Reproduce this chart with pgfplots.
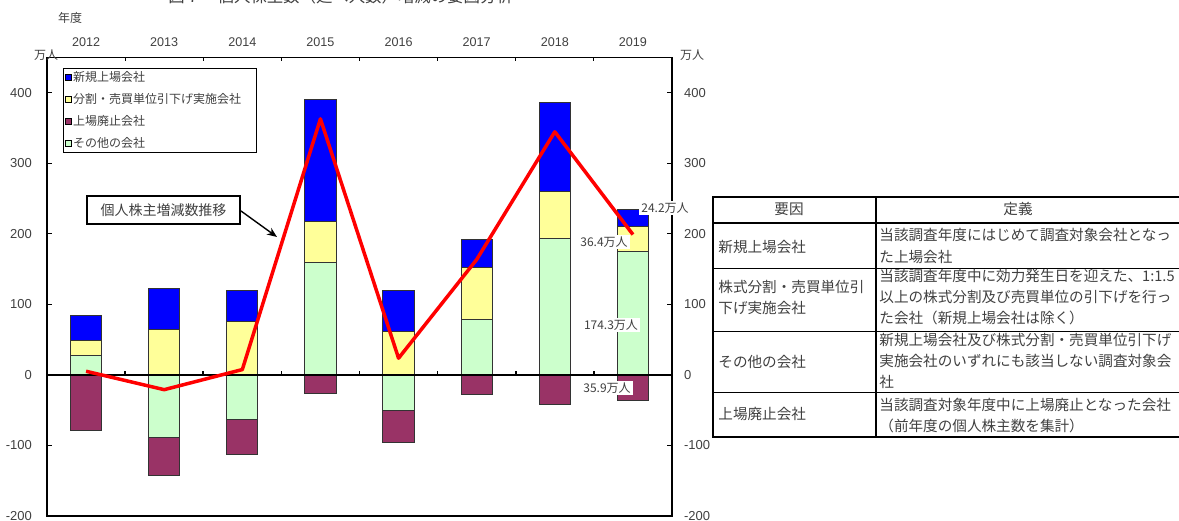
\documentclass[border=0pt]{standalone}
\usepackage{fontspec}
\setmainfont{Liberation Sans}
\newfontfamily\jp{Noto Sans CJK JP}
\usepackage{pgfplots}
\pgfplotsset{compat=1.18}
\usetikzlibrary{arrows.meta}

\definecolor{cBlue}{HTML}{0000FF}
\definecolor{cYel}{HTML}{FFFF99}
\definecolor{cPur}{HTML}{993366}
\definecolor{cGrn}{HTML}{CCFFCC}
\definecolor{txt}{HTML}{404040}

\pgfplotsset{
  sq/.style={draw=black!80, line width=0.5pt,
    legend image code/.code={\draw[##1,draw=black,line width=0.3pt] (0pt,-1.5pt) rectangle (3pt,1.5pt);}},
}

\begin{document}
\begin{tikzpicture}
\useasboundingbox (0,0) rectangle (589.5pt,260pt);

% main axis: bars (cumulative tops) and the net line
\begin{axis}[
  at={(23.5pt,2pt)}, anchor=south west,
  scale only axis, width=312.5pt, height=229.25pt,
  xmin=-0.5, xmax=7.5, ymin=-200, ymax=450,
  ytick={-200,-100,...,400},
  xtick={0,...,7},
  xticklabels={2012,2013,2014,2015,2016,2017,2018,2019},
  xticklabel pos=upper,
  xtick style={draw=none},
  major tick length=2.5pt,
  tick style={black, line width=0.5pt},
  axis line style={black, line width=0.6pt},
  /pgf/number format/assume math mode=true,
  yticklabel style={font=\fontsize{6.5}{7}\selectfont, text=txt, xshift=-4pt},
  xticklabel style={font=\fontsize{6.3}{7}\selectfont, text=txt, yshift=-0.4pt},
  ybar, bar width=0.4, bar shift=0pt,
  legend cell align=left,
  legend style={at={(0,1)}, anchor=north west, xshift=8pt, yshift=-5.25pt,
    draw=black, line width=0.6pt, inner sep=0.5pt, row sep=3pt,
    font=\jp\fontsize{6}{7}\selectfont, text=txt,
    nodes={inner sep=1pt, text height=5pt, text depth=1pt}},
]
\addplot[fill=cBlue, sq] coordinates {(0,84.4) (1,122.3) (2,120) (3,390) (4,120) (5,192) (6,386.9) (7,234.9)};
\addlegendentry{新規上場会社}
\addplot[fill=cYel, sq] coordinates {(0,48.8) (1,64.4) (2,76.3) (3,217.6) (4,61.6) (5,152.2) (6,260.3) (7,210.7)};
\addlegendentry{分割・売買単位引下げ実施会社\hspace*{6pt}}
\addplot[fill=cPur, sq] coordinates {(0,-79.2) (1,-143.2) (2,-112.4) (3,-27) (4,-96.3) (5,-28.4) (6,-42.2) (7,-35.9)};
\addlegendentry{上場廃止会社}
\addplot[fill=cGrn, sq] coordinates {(0,27.5) (3,159.7) (5,78.7) (6,192.9) (7,174.3)};
\addlegendentry{その他の会社}
\addplot[fill=cGrn, sq, forget plot] coordinates {(1,-88.7) (2,-62.6) (4,-49.8)};

\draw[line width=1pt] (axis cs:-0.5,0) -- (axis cs:7.5,0);
\pgfplotsinvokeforeach{0.5,1.5,2.5,3.5,4.5,5.5,6.5}{\draw[line width=0.8pt] (axis cs:#1,0) -- ++(0pt,1.8pt);}

\addplot[sharp plot, draw=red, line width=1.75pt, mark=none, line join=round, forget plot]
  coordinates {(0,5.2) (1,-20.9) (2,7.6) (3,363) (4,23.7) (5,163.6) (6,344.7) (7,199)};
\end{axis}

% right-hand scale and the small ticks along the top
\begin{axis}[
  at={(23.5pt,2pt)}, anchor=south west,
  scale only axis, width=312.5pt, height=229.25pt,
  xmin=-0.5, xmax=7.5, ymin=-200, ymax=450,
  axis x line*=top, axis y line*=right,
  axis line style={draw=none},
  xtick={0.5,1.5,...,6.5}, xticklabels={},
  ytick={-200,-100,...,400},
  tick align=inside, major tick length=2pt,
  tick style={black, line width=0.5pt},
  /pgf/number format/assume math mode=true,
  yticklabel style={font=\fontsize{6.5}{7}\selectfont, text=txt, xshift=2.5pt},
]
\end{axis}

% text and the definitions table, in picture pixels
\begin{scope}[x=0.5pt, y=-0.5pt, yshift=260pt, every node/.style={text=txt}]
  \node[anchor=base west, inner sep=0] at (168,2.5) {\jp\fontsize{8.2}{9}\selectfont 図７　個人株主数（延べ人数）増減の要因分析};
  \node[font=\jp\fontsize{6}{7}\selectfont] at (70,18) {年度};
  \node[font=\jp\fontsize{6}{7}\selectfont] at (46,55) {万人};
  \node[font=\jp\fontsize{6}{7}\selectfont] at (692,55) {万人};

  % call-out for the line
  \draw[line width=0.7pt, fill=white] (87,196) rectangle (240,224);
  \node[font=\jp\fontsize{7}{8}\selectfont] at (163.5,210) {個人株主増減数推移};
  \draw[line width=0.7pt, -{Stealth[length=5pt,width=4pt]}] (241,211) -- (277,237);

  % value labels for 2019
  \begin{scope}[every node/.style={text=txt, fill=white, inner sep=1pt, font=\jp\fontsize{6}{7}\selectfont}]
    \node at (665,208) {24.2万人};
    \node at (604,242) {36.4万人};
    \node at (611,325) {174.3万人};
    \node at (607,388) {35.9万人};
  \end{scope}

  % table
  \draw[line width=0.6pt] (713,223) -- (1185,223);
  \draw[line width=0.5pt] (713,269) -- (1185,269);
  \draw[line width=0.5pt] (713,332) -- (1185,332);
  \draw[line width=0.5pt] (713,393) -- (1185,393);
  \draw[line width=0.8pt] (876,197) -- (876,437);
  \draw[line width=1pt] (713,197) rectangle (1185,437);

  \begin{scope}[every node/.style={text=txt, inner sep=0, anchor=west, font=\jp\fontsize{7.3}{8}\selectfont}]
    \node[anchor=center] at (789,209) {要因};
    \node[anchor=center] at (1018,209) {定義};
    \node at (718,247) {新規上場会社};
    \node at (879,235) {当該調査年度にはじめて調査対象会社となっ};
    \node at (879,257) {た上場会社};
    \node at (718,287) {株式分割・売買単位引};
    \node at (718,308) {下げ実施会社};
    \node at (879,276) {当該調査年度中に効力発生日を迎えた、1:1.5};
    \node at (879,297) {以上の株式分割及び売買単位の引下げを行っ};
    \node at (879,318) {た会社（新規上場会社は除く）};
    \node at (718,362) {その他の会社};
    \node at (879,340) {新規上場会社及び株式分割・売買単位引下げ};
    \node at (879,361) {実施会社のいずれにも該当しない調査対象会};
    \node at (879,382) {社};
    \node at (718,414) {上場廃止会社};
    \node at (879,405) {当該調査対象年度中に上場廃止となった会社};
    \node at (879,426) {（前年度の個人株主数を集計）};
  \end{scope}
\end{scope}
\end{tikzpicture}
\end{document}
